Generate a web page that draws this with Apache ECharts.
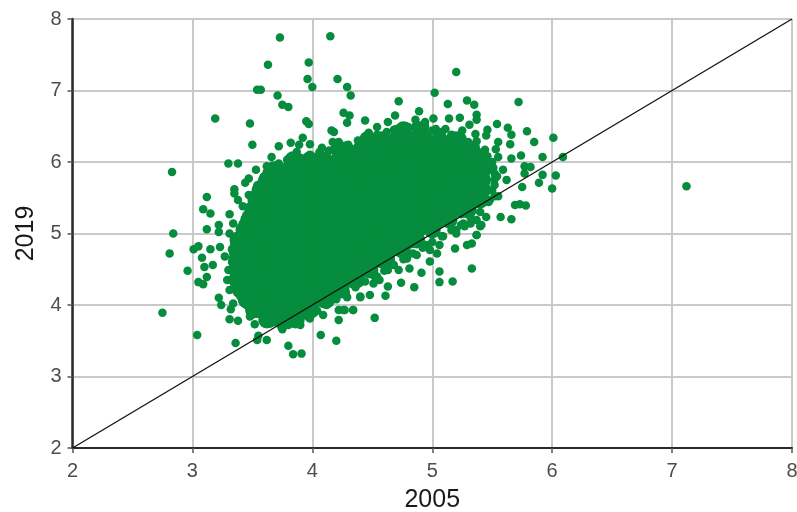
<!DOCTYPE html>
<html><head><meta charset="utf-8">
<style>html,body{margin:0;padding:0;background:#fff}#c{width:797px;height:512px}</style>
<script src="https://cdn.jsdelivr.net/npm/echarts@6/dist/echarts.min.js"></script>
</head><body><div id="c"></div>
<script>
const axisTicks = [2,3,4,5,6,7,8];
const xName = "2005", yName = "2019";
const diagonal = [[2,2],[8,8]];
// densest part of the cloud, read row by row: [y, x values]
const denseRows = [
[6.45,[4.76,4.90]],
[6.31,[4.46,4.58,4.70,4.82,4.94,5.06,5.18,5.22]],
[6.17,[4.22,4.28,4.40,4.52,4.64,4.76,4.88,5.00,5.12,5.24,5.33]],
[6.03,[3.84,3.98,4.10,4.22,4.34,4.46,4.58,4.70,4.82,4.94,5.06,5.18,5.30,5.40]],
[5.89,[3.68,3.80,3.92,4.04,4.16,4.28,4.40,4.52,4.64,4.76,4.88,5.00,5.12,5.24,5.36,5.42]],
[5.75,[3.62,3.74,3.86,3.98,4.10,4.22,4.34,4.46,4.58,4.70,4.82,4.94,5.06,5.18,5.30,5.42]],
[5.61,[3.57,3.68,3.80,3.92,4.04,4.16,4.28,4.40,4.52,4.64,4.76,4.88,5.00,5.12,5.24,5.36,5.42]],
[5.47,[3.53,3.62,3.74,3.86,3.98,4.10,4.22,4.34,4.46,4.58,4.70,4.82,4.94,5.06,5.18,5.30,5.40]],
[5.33,[3.51,3.56,3.68,3.80,3.92,4.04,4.16,4.28,4.40,4.52,4.64,4.76,4.88,5.00,5.12,5.24,5.30]],
[5.19,[3.47,3.50,3.62,3.74,3.86,3.98,4.10,4.22,4.34,4.46,4.58,4.70,4.82,4.94,5.06,5.14]],
[5.05,[3.43,3.56,3.68,3.80,3.92,4.04,4.16,4.28,4.40,4.52,4.64,4.76,4.88,5.00]],
[4.91,[3.38,3.50,3.62,3.74,3.86,3.98,4.10,4.22,4.34,4.46,4.58,4.70,4.82,4.87]],
[4.77,[3.37,3.44,3.56,3.68,3.80,3.92,4.04,4.16,4.28,4.40,4.52,4.64,4.75]],
[4.63,[3.37,3.50,3.62,3.74,3.86,3.98,4.10,4.22,4.34,4.46,4.58,4.62]],
[4.49,[3.37,3.44,3.56,3.68,3.80,3.92,4.04,4.16,4.28,4.40,4.48]],
[4.35,[3.37,3.50,3.62,3.74,3.86,3.98,4.10,4.22,4.34,4.37]],
[4.21,[3.40,3.44,3.56,3.68,3.80,3.92,4.04,4.16,4.24]],
[4.07,[3.45,3.50,3.62,3.74,3.86,3.98,4.10,4.12]],
[3.93,[3.51,3.56,3.68,3.80,3.92,3.99]],
[3.79,[3.62,3.74,3.86]]
];
// edge of the solid area
const edgeX = [3.80,3.72,3.65,3.62,3.60,3.58,3.55,3.53,3.52,3.50,3.50,3.48,3.47,3.45,3.44,3.42,3.40,3.40,3.38,3.35,3.35,3.33,3.34,3.36,3.33,3.34,3.33,3.35,3.33,3.35,3.36,3.38,3.40,3.43,3.47,3.50,3.55,3.60,3.68,3.74,3.80,3.86,
3.90,3.98,4.06,4.14,4.22,4.30,4.38,4.46,4.54,4.62,4.70,4.78,4.86,4.94,5.00,5.08,5.16,5.24,5.30,5.36,5.42,5.46,5.50,5.51,5.52,5.52,5.52,5.50,5.52,5.47,
5.40,5.32,5.24,5.16,5.08,5.00,4.92,4.84,4.76,4.68,4.60,4.52,4.44,4.36,4.28,4.20,4.12,4.04,3.96,3.90];
const edgeY = [6.03,5.98,5.92,5.86,5.80,5.74,5.68,5.62,5.56,5.50,5.44,5.38,5.32,5.26,5.20,5.14,5.08,5.02,4.96,4.90,4.84,4.78,4.72,4.66,4.60,4.54,4.48,4.42,4.36,4.30,4.24,4.18,4.12,4.06,4.00,3.94,3.88,3.82,3.76,3.70,3.72,3.78,
6.06,6.10,6.12,6.16,6.18,6.24,6.30,6.34,6.38,6.42,6.46,6.50,6.50,6.50,6.44,6.42,6.38,6.34,6.28,6.22,6.14,6.08,6.00,5.92,5.84,5.76,5.68,5.60,5.52,5.44,
5.30,5.22,5.12,5.05,4.96,4.88,4.80,4.72,4.64,4.56,4.48,4.40,4.33,4.25,4.17,4.08,4.00,3.92,3.84,3.78];
// individually readable points around the cloud
const fringeX = [3.73,4.15,3.63,3.97,3.96,4.00,4.21,4.29,4.32,3.54,3.57,3.71,3.75,3.80,3.19,3.48,3.95,3.97,4.26,4.31,4.29,4.44,4.47,4.16,4.18,3.50,3.72,3.82,3.92,3.89,3.98,4.08,4.17,4.22,3.87,3.30,3.38,2.83,3.53,3.47,3.44,3.35,3.54,3.66,3.62,3.79,3.95,4.06,4.43,4.26,
5.20,5.02,4.72,5.13,5.29,5.35,5.72,4.69,4.89,4.63,4.86,4.94,5.01,5.14,5.23,5.37,5.37,5.31,5.54,5.63,5.79,5.66,5.46,5.45,5.36,5.25,5.11,5.03,4.54,4.68,4.80,5.85,6.01,5.55,5.65,5.53,5.44,5.23,5.37,5.92,6.09,5.74,5.66,5.55,5.77,5.82,5.92,6.03,5.89,6.00,5.75,5.77,5.59,5.54,5.62,5.48,5.55,5.48,5.69,5.73,5.78,5.45,5.57,5.66,5.37,5.40,5.37,5.27,5.20,5.31,5.43,5.44,5.43,5.32,7.12,
3.12,3.09,3.15,3.31,3.12,3.22,3.22,2.84,2.81,3.01,3.05,3.15,3.23,3.08,3.17,2.96,3.10,3.12,3.05,3.09,3.22,3.24,3.32,2.75,3.31,3.38,3.45,3.52,3.48,3.04,3.36,3.54,3.62,3.55,3.65,3.75,3.80,3.84,3.91,4.07,4.20,3.90,3.98,4.09,4.22,4.22,4.34,4.27,4.40,3.31,3.29,3.30,3.27,3.31,3.38,3.35,3.47,3.42,3.34,3.34,3.36,
5.33,5.06,5.06,5.17,4.91,4.85,4.74,4.61,4.63,4.52,4.34,4.26,4.48,4.40,4.56,4.63,4.72,4.81,4.98,5.04,4.87,5.19,5.29,5.33,5.37,5.41,5.20,5.09,4.95,4.79,4.54,4.29,5.26,4.98,4.65,4.51,5.06];
const fringeY = [7.74,7.76,7.36,7.39,7.16,7.05,7.16,7.05,6.93,7.01,7.01,6.93,6.80,6.77,6.61,6.54,6.57,6.53,6.69,6.65,6.55,6.58,6.41,6.44,6.42,6.24,6.22,6.27,6.34,6.24,6.25,6.20,6.28,6.28,6.14,5.98,5.98,5.86,5.89,5.77,5.71,5.62,5.67,6.07,5.94,6.03,6.03,6.14,6.19,6.17,
7.26,6.97,6.85,6.81,6.86,6.80,6.84,6.65,6.71,6.56,6.59,6.56,6.61,6.61,6.62,6.66,6.59,6.52,6.53,6.48,6.43,6.38,6.45,6.37,6.39,6.44,6.46,6.46,6.49,6.45,6.49,6.28,6.34,6.28,6.25,6.18,6.17,6.29,6.29,6.07,6.07,6.09,6.05,6.07,5.94,5.93,5.82,5.81,5.71,5.63,5.65,5.84,5.89,5.80,5.75,5.89,5.52,5.47,5.40,5.41,5.39,5.23,5.23,5.20,5.19,5.10,4.98,5.10,5.05,5.33,5.65,5.98,5.75,5.14,5.66,
5.51,5.34,5.28,5.27,5.06,5.12,5.02,5.00,4.72,4.78,4.82,4.78,4.81,4.66,4.56,4.48,4.53,4.39,4.32,4.29,4.10,4.00,3.94,3.89,3.80,3.78,4.00,3.73,3.84,3.58,3.47,3.51,3.51,3.57,3.74,3.66,3.43,3.31,3.32,3.58,3.50,3.72,3.81,3.86,3.79,3.93,3.93,3.93,4.11,4.21,4.35,4.49,4.68,5.00,5.47,5.56,5.54,5.38,5.14,4.02,4.86,
4.51,4.47,4.32,4.33,4.45,4.25,4.31,4.13,4.26,3.82,3.93,3.93,4.14,4.12,4.35,4.49,4.49,4.51,4.61,4.72,4.70,4.79,4.84,4.86,4.98,5.12,5.00,4.96,4.84,4.65,4.40,4.11,5.14,4.77,4.58,4.30,4.84];

const dense = [];
denseRows.forEach(r => r[1].forEach(x => dense.push([x, r[0]])));
const fringe = fringeX.map((x,i) => [x, fringeY[i]]).concat(edgeX.map((x,i) => [x, edgeY[i]]));

const green = "#058c3c", labelColor = "#4d4d4d", gridColor = "#c9c9c9", axisColor = "#2b2b2b";
const baseAxis = (name, lineWidth) => ({
  type: "value", min: 2, max: 8, interval: 1, name,
  nameLocation: "middle",
  nameTextStyle: {fontFamily: "Liberation Sans", fontSize: 25, color: "#1a1a1a"},
  axisLine: {show: true, onZero: false, lineStyle: {color: axisColor, width: lineWidth}},
  axisTick: {show: true, length: 5, lineStyle: {color: "#555", width: 1.5}},
  axisLabel: {fontFamily: "Liberation Sans", fontSize: 20, color: labelColor, showMinLabel: true, showMaxLabel: true},
  splitLine: {show: true, lineStyle: {color: gridColor, width: 2}}
});
const chart = echarts.init(document.getElementById("c"), null, {renderer: "canvas"});
chart.setOption({
  animation: false,
  backgroundColor: "#fff",
  grid: {left: 72.5, right: 5, top: 19, bottom: 64, outerBoundsMode: "none"},
  xAxis: (a => { a.nameGap = 40; a.axisLabel.margin = 13; return a; })(baseAxis(xName, 2)),
  yAxis: (a => { a.nameGap = 34; a.axisLabel.margin = 11; return a; })(baseAxis(yName, 2.5)),
  series: [
    {type: "scatter", data: dense, symbolSize: 17, itemStyle: {color: green, opacity: 1}, silent: true, z: 3},
    {type: "scatter", data: fringe, symbolSize: 8.5, itemStyle: {color: green, opacity: 1}, silent: true, z: 3},
    {type: "line", data: diagonal, showSymbol: false, lineStyle: {color: "#111", width: 1.3}, z: 5, silent: true}
  ]
});
</script></body></html>
